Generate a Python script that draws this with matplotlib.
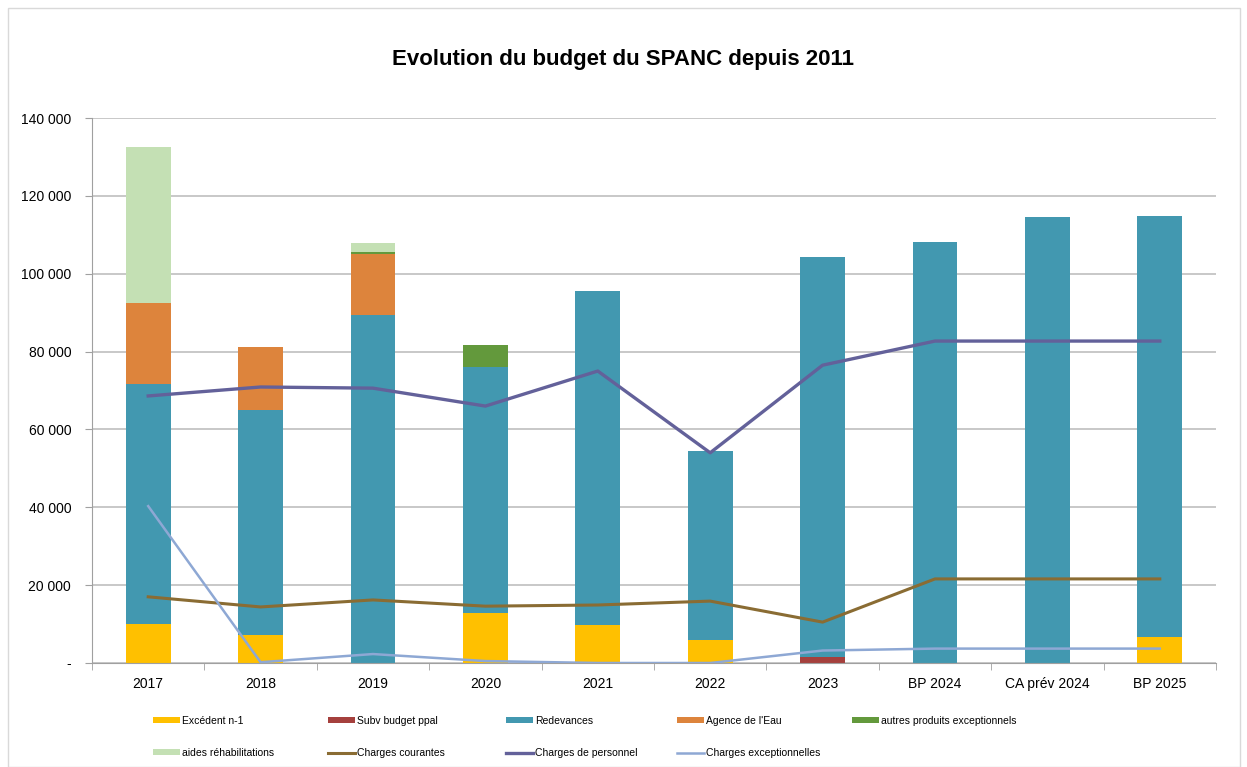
import matplotlib
matplotlib.use("Agg")
import matplotlib.pyplot as plt
import numpy as np
from matplotlib.ticker import FuncFormatter, FixedLocator
from matplotlib.patches import Rectangle

categories = ["2017", "2018", "2019", "2020", "2021", "2022", "2023", "BP 2024", "CA prév 2024", "BP 2025"]

excedent = [10000, 7200, 0, 12800, 9800, 6000, 0, 0, 0, 6700]
subv = [0, 0, 0, 0, 0, 0, 1600, 0, 0, 0]
redevances = [61700, 57800, 89400, 63200, 85800, 48500, 102700, 108100, 114600, 108100]
agence = [20800, 16200, 15600, 0, 0, 0, 0, 0, 0, 0]
autres = [0, 0, 600, 5700, 0, 0, 0, 0, 0, 0]
aides = [40000, 0, 2300, 0, 0, 0, 0, 0, 0, 0]

charges_courantes = [17000, 14400, 16200, 14600, 14900, 15900, 10500, 21600, 21600, 21600]
charges_personnel = [68600, 70900, 70600, 66000, 75000, 54000, 76500, 82700, 82700, 82700]
charges_exc = [40300, 200, 2300, 500, 0, 0, 3200, 3700, 3700, 3700]

bar_series = [
    ("Excédent n-1", excedent, "#FFC000"),
    ("Subv budget ppal", subv, "#A5403D"),
    ("Redevances", redevances, "#4298B0"),
    ("Agence de l'Eau", agence, "#DD843C"),
    ("autres produits exceptionnels", autres, "#63993C"),
    ("aides réhabilitations", aides, "#C4E0B4"),
]
line_series = [
    ("Charges courantes", charges_courantes, "#8A6C33", 2.2),
    ("Charges de personnel", charges_personnel, "#63619A", 2.4),
    ("Charges exceptionnelles", charges_exc, "#8EA8D4", 1.8),
]

plt.rcParams['font.family'] = ['Liberation Sans', 'DejaVu Sans']

fig = plt.figure(figsize=(12.47, 7.67), dpi=100)
W, H = 1247, 767
ax = fig.add_axes([92 / W, 1 - 663 / H, (1216 - 92) / W, (663 - 118) / H])

x = np.arange(len(categories))
bottom = np.zeros(len(categories))
handles = {}
for name, vals, col in bar_series:
    v = np.array(vals, dtype=float)
    b = ax.bar(x, v, 0.4, bottom=bottom, color=col, label=name, zorder=2)
    handles[name] = b
    bottom += v
for name, vals, col, lw in line_series:
    (l,) = ax.plot(x, vals, color=col, lw=lw, label=name, zorder=3)
    handles[name] = l

ax.set_xlim(-0.5, len(categories) - 0.5)
ax.set_ylim(0, 140000)
ax.set_yticks(np.arange(0, 140001, 20000))
ax.yaxis.set_major_formatter(FuncFormatter(lambda v, p: "-" if v == 0 else f"{int(v):,}".replace(",", " ")))
ax.set_xticks(x)
ax.set_xticklabels(categories)
ax.xaxis.set_minor_locator(FixedLocator(np.arange(-0.5, len(categories), 1.0)))
ax.tick_params(axis='x', which='major', length=0, pad=10, labelsize=10)
ax.tick_params(axis='x', which='minor', length=5, color="#A0A0A0", direction='out')
ax.tick_params(axis='y', length=5, color="#A0A0A0", direction='out', pad=10, labelsize=10)
ax.grid(axis='y', color="#BFBFBF", lw=1.2, zorder=0)
for s in ["top", "right"]:
    ax.spines[s].set_visible(False)
for s in ["left", "bottom"]:
    ax.spines[s].set_color("#A0A0A0")

fig.text(0.5, 1 - 60 / H, "Evolution du budget du SPANC depuis 2011", ha='center', va='center',
         fontsize=16, fontweight='bold')

# Legend: 5 columns with equal spacing
cols = [["Excédent n-1", "aides réhabilitations"],
        ["Subv budget ppal", "Charges courantes"],
        ["Redevances", "Charges de personnel"],
        ["Agence de l'Eau", "Charges exceptionnelles"],
        ["autres produits exceptionnels"]]
col_x = [153, 328, 506, 677, 852]
for cx, names in zip(col_x, cols):
    fig.legend([handles[n] for n in names], names, loc='upper left',
               bbox_to_anchor=(cx / W, 1 - 716 / H), frameon=False,
               prop={'family': ['Liberation Sans Narrow', 'Liberation Sans'], 'size': 7.5},
               handlelength=2.6, handleheight=0.5, labelspacing=2.1, handletextpad=0.2,
               borderaxespad=0, borderpad=0)

fig.patches.append(Rectangle((8 / W, 0), (1240 - 8) / W, 1 - 8 / H, transform=fig.transFigure,
                             fill=False, edgecolor="#D9D9D9", lw=1))

fig.savefig("out.png", dpi=100)
